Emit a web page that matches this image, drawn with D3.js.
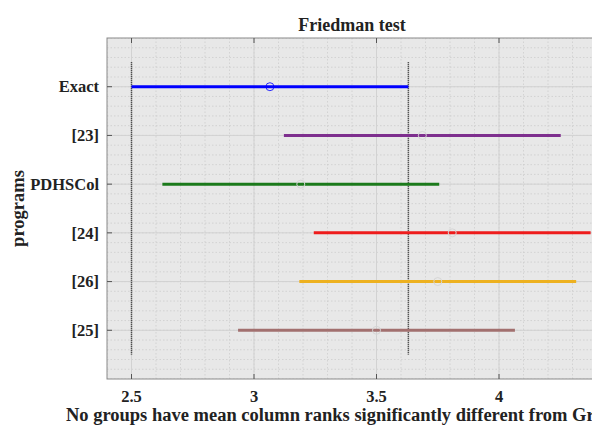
<!DOCTYPE html>
<html>
<head>
<meta charset="utf-8">
<script src="https://cdn.jsdelivr.net/npm/d3@7"></script>
<style>
  body { margin: 0; background: #fff; }
  text { font-family: "Liberation Serif", "Times New Roman", serif; font-weight: bold; fill: #222; }
</style>
</head>
<body>
<script>
// mean column ranks and comparison intervals
const programs = ['Exact', '[23]', 'PDHSCol', '[24]', '[26]', '[25]'];
const meanRanks = [3.065, 3.687, 3.191, 3.809, 3.75, 3.5];
const halfWidth = 0.565;
const colors = ['#0000ff', '#7e2f8e', '#1b7a1b', '#ee1c1c', '#edb120', '#a2706f'];
const xTicks = [2.5, 3, 3.5, 4];

const W = 592, H = 426;
const MARGIN = {top: 38, left: 107, bottom: 47};
const plotW = 490, plotH = H - MARGIN.top - MARGIN.bottom;

const svg = d3.select('body').append('svg')
    .attr('width', W).attr('height', H);

// x in rank units, y in matlab group positions (top = group 1)
const x = d3.scaleLinear().domain([2.4, 4.4]).range([MARGIN.left, MARGIN.left + plotW]);
const y = d3.scaleLinear().domain([0, 7]).range([MARGIN.top + plotH, MARGIN.top]);
const yPos = i => y(programs.length - i);

svg.append('clipPath').attr('id', 'clip')
  .append('rect')
    .attr('x', MARGIN.left).attr('y', MARGIN.top)
    .attr('width', plotW).attr('height', plotH);

const plot = svg.append('g').attr('clip-path', 'url(#clip)');

plot.append('rect')
    .attr('x', MARGIN.left).attr('y', MARGIN.top)
    .attr('width', plotW).attr('height', plotH)
    .attr('fill', '#e8e8e8');

// minor grid
plot.append('g').selectAll('line')
  .data(d3.range(24, 45).map(d => d / 10))
  .join('line')
    .attr('x1', d => x(d)).attr('x2', d => x(d))
    .attr('y1', MARGIN.top).attr('y2', MARGIN.top + plotH)
    .attr('stroke', '#cdcdcd').attr('stroke-width', 0.8)
    .attr('stroke-dasharray', '1.5,2');
plot.append('g').selectAll('line')
  .data(d3.range(0, 36).map(d => d / 5))
  .join('line')
    .attr('x1', MARGIN.left).attr('x2', MARGIN.left + plotW)
    .attr('y1', d => y(d)).attr('y2', d => y(d))
    .attr('stroke', '#cdcdcd').attr('stroke-width', 0.8)
    .attr('stroke-dasharray', '1.5,2');

// major grid
plot.append('g').selectAll('line')
  .data(xTicks)
  .join('line')
    .attr('x1', d => x(d)).attr('x2', d => x(d))
    .attr('y1', MARGIN.top).attr('y2', MARGIN.top + plotH)
    .attr('stroke', '#d2d2d2').attr('stroke-width', 1);
plot.append('g').selectAll('line')
  .data(programs)
  .join('line')
    .attr('x1', MARGIN.left).attr('x2', MARGIN.left + plotW)
    .attr('y1', (d, i) => yPos(i)).attr('y2', (d, i) => yPos(i))
    .attr('stroke', '#d2d2d2').attr('stroke-width', 1);

// reference lines at the bounds of the first group
plot.append('g').selectAll('line')
  .data([meanRanks[0] - halfWidth, meanRanks[0] + halfWidth])
  .join('line')
    .attr('x1', d => x(d)).attr('x2', d => x(d))
    .attr('y1', y(6.5)).attr('y2', y(0.5))
    .attr('stroke', '#222').attr('stroke-width', 1.5)
    .attr('stroke-dasharray', '1,1');

// intervals
plot.append('g').selectAll('line')
  .data(meanRanks)
  .join('line')
    .attr('x1', d => x(d - halfWidth)).attr('x2', d => x(d + halfWidth))
    .attr('y1', (d, i) => yPos(i)).attr('y2', (d, i) => yPos(i))
    .attr('stroke', (d, i) => colors[i]).attr('stroke-width', 3);

// means
plot.append('g').selectAll('circle')
  .data(meanRanks)
  .join('circle')
    .attr('cx', d => x(d)).attr('cy', (d, i) => yPos(i))
    .attr('r', 4)
    .attr('fill', 'none')
    .attr('stroke', (d, i) => i === 0 ? colors[0] : '#d6d6d6')
    .attr('stroke-opacity', (d, i) => i === 0 ? 0.8 : 1)
    .attr('stroke-width', 1);

// box and ticks
svg.append('rect')
    .attr('x', MARGIN.left).attr('y', MARGIN.top)
    .attr('width', plotW).attr('height', plotH)
    .attr('fill', 'none').attr('stroke', '#8a8a8a').attr('stroke-width', 1);

svg.append('g').selectAll('line')
  .data(xTicks.flatMap(d => [[d, MARGIN.top, MARGIN.top + 5], [d, MARGIN.top + plotH, MARGIN.top + plotH - 5]]))
  .join('line')
    .attr('x1', d => x(d[0])).attr('x2', d => x(d[0]))
    .attr('y1', d => d[1]).attr('y2', d => d[2])
    .attr('stroke', '#555');
svg.append('g').selectAll('line')
  .data(programs)
  .join('line')
    .attr('x1', MARGIN.left).attr('x2', MARGIN.left + 5)
    .attr('y1', (d, i) => yPos(i)).attr('y2', (d, i) => yPos(i))
    .attr('stroke', '#555');

// tick labels
svg.append('g').selectAll('text')
  .data(xTicks)
  .join('text')
    .attr('x', d => x(d)).attr('y', 402)
    .attr('text-anchor', 'middle')
    .style('font-size', '16.5px')
    .text(d => d);
svg.append('g').selectAll('text')
  .data(programs)
  .join('text')
    .attr('x', MARGIN.left - 8).attr('y', (d, i) => yPos(i))
    .attr('dy', '0.35em')
    .attr('text-anchor', 'end')
    .style('font-size', '16.5px')
    .text(d => d);

// titles (the x label runs past the right edge, as in the original figure)
const cx = MARGIN.left + plotW / 2;
svg.append('text')
    .attr('x', cx).attr('y', 31)
    .attr('text-anchor', 'middle')
    .style('font-size', '18px')
    .text('Friedman test');
svg.append('text')
    .attr('x', cx).attr('y', 421)
    .attr('text-anchor', 'middle')
    .style('font-size', '18.5px')
    .text('No groups have mean column ranks significantly different from Group 1');
svg.append('text')
    .attr('transform', `translate(24,${MARGIN.top + plotH / 2}) rotate(-90)`)
    .attr('text-anchor', 'middle')
    .style('font-size', '18.5px')
    .text('programs');
</script>
</body>
</html>
